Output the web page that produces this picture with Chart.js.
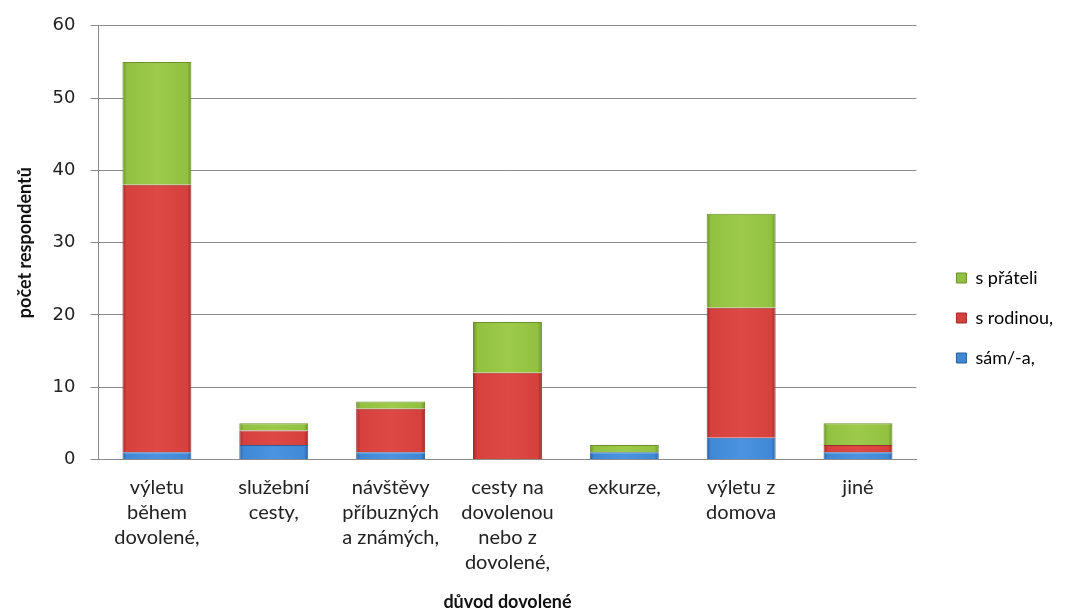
<!DOCTYPE html>
<html><head><meta charset="utf-8">
<script src="https://cdn.jsdelivr.net/npm/chart.js@4/dist/chart.umd.min.js"></script>
<style>html,body{margin:0;padding:0;background:#fff}#wrap{width:1067px;height:609px}</style>
</head><body><div id="wrap"><canvas id="c" width="1067" height="609"></canvas></div>
<script>
const categories = [
  ["výletu","během","dovolené,"],
  ["služební","cesty,"],
  ["návštěvy","příbuzných","a známých,"],
  ["cesty na","dovolenou","nebo z","dovolené,"],
  ["exkurze,"],
  ["výletu z","domova"],
  ["jiné"]
];
const samA = [1, 2, 1, 0, 1, 3, 1];
const sRodinou = [37, 2, 6, 12, 0, 18, 1];
const sPrateli = [17, 1, 1, 7, 1, 13, 3];
const seriesNames = ["sám/-a,", "s rodinou,", "s přáteli"];
const yTicks = [0, 10, 20, 30, 40, 50, 60];

const BAR_PCT = 0.59;
function grad(base, dark, light) {
  return function(ctx) {
    const chart = ctx.chart;
    if (!chart.chartArea || ctx.dataIndex === undefined) return base;
    const xs = chart.scales.x;
    const x = xs.getPixelForValue(ctx.dataIndex);
    const w = (chart.chartArea.width / categories.length) * BAR_PCT;
    const g = chart.ctx.createLinearGradient(x - w / 2, 0, x + w / 2, 0);
    g.addColorStop(0, dark);
    g.addColorStop(0.06, base);
    g.addColorStop(0.5, light);
    g.addColorStop(0.94, base);
    g.addColorStop(1, dark);
    return g;
  };
}

const TXT = "'Lato','Carlito','Liberation Sans',sans-serif";

new Chart(document.getElementById('c'), {
  type: 'bar',
  data: {
    labels: categories,
    datasets: [
      { label: seriesNames[0], data: samA, backgroundColor: grad('#3f88d6', '#2a5f9e', '#4c94e2'), borderColor: '#2d5f96', borderWidth: 1 },
      { label: seriesNames[1], data: sRodinou, backgroundColor: grad('#d6403d', '#9c2b29', '#de4845'), borderColor: '#9a2f2d', borderWidth: 1 },
      { label: seriesNames[2], data: sPrateli, backgroundColor: grad('#92c040', '#6a9129', '#9dca4a'), borderColor: '#6a8f2c', borderWidth: 1 }
    ]
  },
  options: {
    responsive: false,
    animation: false,
    devicePixelRatio: 1,
    layout: { padding: { left: 14, right: 4, top: 23, bottom: -4 } },
    datasets: { bar: { barPercentage: BAR_PCT, categoryPercentage: 1 } },
    scales: {
      x: {
        stacked: true,
        grid: { display: false, drawTicks: false },
        border: { color: '#8c8c8c', width: 1 },
        ticks: { color: '#222', font: { family: TXT, size: 20, lineHeight: 1.25 }, padding: 16, maxRotation: 0, autoSkip: false },
        title: { display: true, text: 'důvod dovolené', color: '#111', font: { family: TXT, size: 18, weight: 'bold', lineHeight: 1.2 }, padding: { top: 0, bottom: 0 } }
      },
      y: {
        stacked: true,
        min: 0, max: 60,
        afterBuildTicks: (axis) => { axis.ticks = yTicks.map(v => ({ value: v })); },
        grid: { color: '#8c8c8c', lineWidth: 1, tickLength: 8 },
        border: { color: '#8c8c8c', width: 1 },
        ticks: { color: '#222', font: { family: "'DejaVu Sans'", size: 18 }, padding: 15 },
        title: { display: true, text: 'počet respondentů', color: '#111', font: { family: TXT, size: 18, weight: 'bold', lineHeight: 1.2 }, padding: { top: 0, bottom: 2 } }
      },
      gap: {
        position: 'right',
        display: true,
        grid: { display: false, drawTicks: false },
        border: { display: false },
        ticks: { display: false },
        afterFit: (axis) => { axis.width = 18; }
      }
    },
    plugins: {
      tooltip: { enabled: false },
      legend: {
        position: 'right',
        reverse: true,
        labels: {
          color: '#222',
          font: { family: TXT, size: 18 },
          boxWidth: 10, boxHeight: 10, padding: 22,
          generateLabels: (chart) => {
            const cols = ['#3f88d6', '#d6403d', '#92c040'];
            const borders = ['#2d5f96', '#9a2f2d', '#6a8f2c'];
            return chart.data.datasets.map((d, i) => ({ text: d.label, fillStyle: cols[i], strokeStyle: borders[i], lineWidth: 1, datasetIndex: i, hidden: false }));
          }
        }
      }
    }
  }
});
</script></body></html>
